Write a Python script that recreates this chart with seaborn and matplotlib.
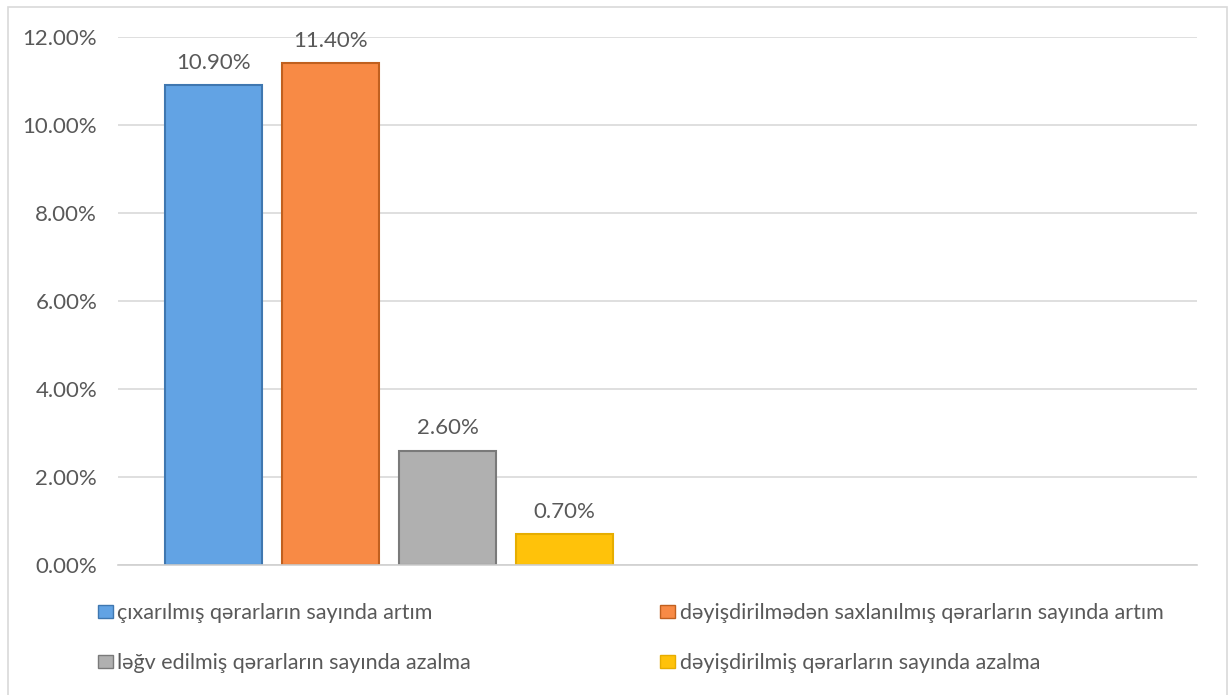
import numpy as np
import pandas as pd
import matplotlib.pyplot as plt
import seaborn as sns
from matplotlib.patches import Rectangle

# data
labels = ["çıxarılmış qərarların sayında artım",
          "dəyişdirilmədən saxlanılmış qərarların sayında artım",
          "ləğv edilmiş qərarların sayında azalma",
          "dəyişdirilmiş qərarların sayında azalma"]
values = [0.109, 0.114, 0.026, 0.007]
colors = ["#62a3e4", "#f88a45", "#b0b0b0", "#ffc20a"]
edges = ["#3f77b0", "#c0601f", "#7a7a7a", "#e6ad00"]

sns.set_theme(style="white")
plt.rcParams['font.family'] = ['Lato', 'DejaVu Sans']
txt = "#595959"

df = pd.DataFrame({"label": labels, "value": values})

fig = plt.figure(figsize=(12.29, 6.95), dpi=100)
ax = fig.add_axes([0.096, 0.187, 0.878, 0.760])

sns.barplot(data=df, x="label", y="value", hue="label", palette=colors,
            saturation=1, width=0.83, dodge=False, legend=False, ax=ax)

for p, ec in zip(ax.patches, edges):
    p.set_edgecolor(ec)
    p.set_linewidth(1.5)

for c in ax.containers:
    ax.bar_label(c, fmt="{:.2%}", padding=9, fontsize=16, color=txt)

ax.set_xlim(-0.816, 8.40)
ax.set_ylim(0, 0.12)
ax.set_yticks(np.arange(0, 0.121, 0.02))
ax.set_yticklabels([f"{v:.2%}" for v in np.arange(0, 0.121, 0.02)],
                   fontsize=16, color=txt)
ax.tick_params(axis="y", length=0, pad=15)
ax.set_xticks([])
ax.set_xlabel("")
ax.set_ylabel("")
ax.grid(axis="y", color="#d9d9d9", linewidth=1.2)
ax.set_axisbelow(True)
for s in ["top", "right", "left"]:
    ax.spines[s].set_visible(False)
ax.spines["bottom"].set_color("#d0d0d0")
ax.spines["bottom"].set_linewidth(1.2)

# legend, column-major order so rows read blue/orange, grey/yellow
order = [0, 2, 1, 3]
handles = [Rectangle((0, 0), 1, 1, facecolor=colors[i], edgecolor=edges[i]) for i in order]
fig.legend(handles, [labels[i] for i in order], ncol=2,
           loc="upper left", bbox_to_anchor=(0.0708, 0.1475), borderpad=0,
           frameon=False, fontsize=15.5, labelcolor=txt,
           handlelength=0.7, handleheight=0.56, handletextpad=0.2,
           columnspacing=8.8, labelspacing=1.39)

# outer chart border
fig.patches.append(Rectangle((8 / 1229, -0.01), 1219 / 1229, 1 - 7 / 695 + 0.01,
                             transform=fig.transFigure, fill=False,
                             edgecolor="#d9d9d9", linewidth=1.2))

fig.savefig("out.png", dpi=100)
